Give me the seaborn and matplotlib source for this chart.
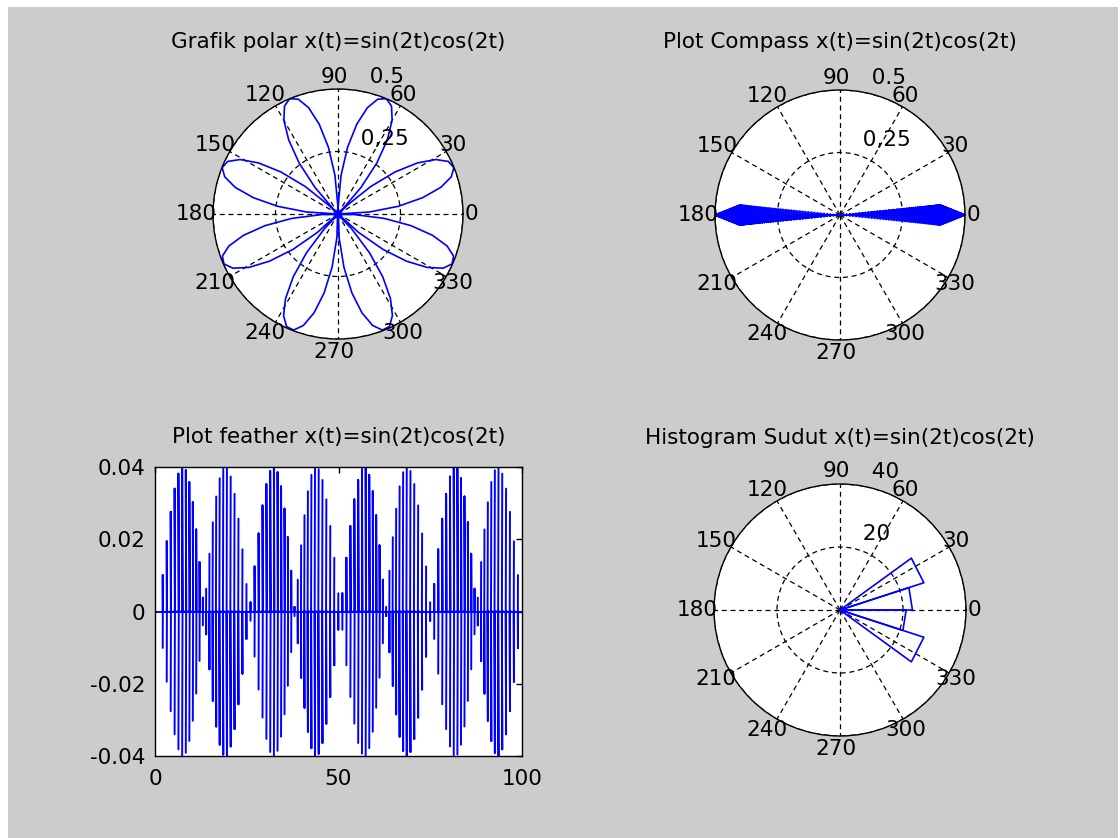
import numpy as np
import pandas as pd
import matplotlib
matplotlib.use("Agg")
import matplotlib.pyplot as plt
from matplotlib.patches import Rectangle
from matplotlib.transforms import offset_copy
import seaborn as sns

# ---------------- data ----------------
titles = ["Grafik polar x(t)=sin(2t)cos(2t)",
          "Plot Compass x(t)=sin(2t)cos(2t)",
          "Plot feather x(t)=sin(2t)cos(2t)",
          "Histogram Sudut x(t)=sin(2t)cos(2t)"]

# sample angle t (0 .. 2*pi, 100 samples) and the signal x(t)
t = np.linspace(0, 2 * np.pi, 100)
x_values = [0.0, 0.126, 0.243, 0.345, 0.425, 0.477, 0.499, 0.489, 0.448, 0.378,
            0.284, 0.171, 0.048, -0.079, -0.2, -0.309, -0.398, -0.461, -0.495, -0.497,
            -0.467, -0.407, -0.321, -0.215, -0.095, 0.032, 0.156, 0.27, 0.367, 0.441,
            0.486, 0.5, 0.482, 0.433, 0.356, 0.257, 0.141, 0.016, -0.11, -0.229,
            -0.333, -0.416, -0.473, -0.498, -0.492, -0.455, -0.388, -0.296, -0.186, -0.063,
            0.063, 0.186, 0.296, 0.388, 0.455, 0.492, 0.498, 0.473, 0.416, 0.333,
            0.229, 0.11, -0.016, -0.141, -0.257, -0.356, -0.433, -0.482, -0.5, -0.486,
            -0.441, -0.367, -0.27, -0.156, -0.032, 0.095, 0.215, 0.321, 0.407, 0.467,
            0.497, 0.495, 0.461, 0.398, 0.309, 0.2, 0.079, -0.048, -0.171, -0.284,
            -0.378, -0.448, -0.489, -0.499, -0.477, -0.425, -0.345, -0.243, -0.126, 0.0]

# angle histogram: counts in 20 bins of 18 degrees each
rose_counts = [23, 28, 0, 0, 0, 0, 0, 0, 0, 0, 0, 0, 0, 0, 0, 0, 0, 0, 28, 21]

theta_ticks = [0, 30, 60, 90, 120, 150, 180, 210, 240, 270, 300, 330]
theta_labels = ['0', '30', '60', '90', '120', '150', '180', '210', '240', '270', '300', '330']
rho_labels_small = ['0,25', '0.5']
rho_labels_rose = ['20', '40']
feather_yticks = [-0.04, -0.02, 0, 0.02, 0.04]
feather_ylabels = ['-0.04', '-0.02', '0', '0.02', '0.04']
feather_xticks = [0, 50, 100]
feather_xlabels = ['0', '50', '100']

# ---------------- style ----------------
W, H = 1120, 838
sns.set_theme(style="white")
plt.rcParams['font.family'] = ['DejaVu Sans']
FS = 15.5
BLUE = '#0000ff'

x = np.array(x_values)

fig = plt.figure(figsize=(W / 100, H / 100), dpi=100, facecolor='white')
fig.patches.append(Rectangle((8 / W, 0), (W - 10) / W, (H - 7) / H, transform=fig.transFigure,
                             facecolor='#cccccc', edgecolor='none', zorder=-10))


def px_axes(left, top, width, height, **kw):
    return fig.add_axes([left / W, 1 - (top + height) / H, width / W, height / H], **kw)


def matlab_polar(cx, cy, R, rmax, rlabels, title, title_y):
    ax = px_axes(cx - R, cy - R, 2 * R, 2 * R, projection='polar')
    ax.set_facecolor('white')
    ax.set_thetagrids(theta_ticks, [''] * len(theta_ticks))
    ax.set_rgrids([rmax / 2, rmax], labels=['', ''])
    ax.grid(True, color='black', linestyle=(0, (4, 3)), linewidth=0.9)
    ax.spines['polar'].set_color('black')
    ax.spines['polar'].set_linewidth(1.0)
    ax.tick_params(axis='x', pad=0, length=0, colors='black')
    # angle labels at 1.1*rmax (MATLAB style)
    tr = offset_copy(ax.transData, fig=fig, x=-4, y=0, units='dots')
    for a, lab in zip(theta_ticks, theta_labels):
        ax.text(np.deg2rad(a), 1.1 * rmax, lab, transform=tr, ha='center', va='center',
                fontsize=FS, color='black', clip_on=False)
    for rv, lab in zip([rmax / 2, rmax], rlabels):
        ax.text(np.deg2rad(82), rv + rmax / 2 / 20, '  ' + lab, ha='left', va='bottom',
                fontsize=FS, color='black')
    ax.set_title(title, y=1 + (cy - R - title_y) / (2 * R), va='center', pad=0,
                 fontsize=FS, color='black')
    return ax


def arrows(vals, offset):
    # MATLAB compass/feather arrow shape
    hx = [0, 1, 0.8, 1, 0.8]
    hy = [0, 0, 0.08, 0, -0.08]
    rows = []
    for i, u in enumerate(vals):
        for a, b in zip(hx, hy):
            rows.append(dict(unit=i, x=a * u + (i + 1 if offset else 0), y=b * u))
    return pd.DataFrame(rows)


# 1) polar rose
ax1 = matlab_polar(338, 214, 125, 0.5, rho_labels_small, titles[0], 42)
theta = np.where(x < 0, t + np.pi, t)
sns.lineplot(x=theta, y=np.abs(x), sort=False, estimator=None, color=BLUE, lw=1.2, ax=ax1)
ax1.set_ylim(0, 0.5)
ax1.set_xlabel(''); ax1.set_ylabel('')

# 2) compass
ax2 = matlab_polar(840, 215, 125, 0.5, rho_labels_small, titles[1], 42)
dfc = arrows(x, False)
dfc['th'] = np.arctan2(dfc['y'], dfc['x'])
dfc['r'] = np.hypot(dfc['x'], dfc['y'])
sns.lineplot(data=dfc, x='th', y='r', units='unit', sort=False, estimator=None,
             color=BLUE, lw=1.2, ax=ax2)
ax2.set_ylim(0, 0.5)
ax2.set_xlabel(''); ax2.set_ylabel('')

# 3) feather
ax3 = px_axes(155, 467, 367, 289)
ax3.set_facecolor('white')
dff = arrows(x, True)
sns.lineplot(data=dff, x='x', y='y', units='unit', sort=False, estimator=None,
             color=BLUE, lw=1.4, ax=ax3)
ax3.axhline(0, color=BLUE, lw=1.4)
ax3.set_xlim(0, 100)
ax3.set_ylim(-0.04, 0.04)
ax3.set_xticks(feather_xticks, feather_xlabels)
ax3.set_yticks(feather_yticks, feather_ylabels)
ax3.tick_params(direction='in', length=4, width=1, top=True, right=True, labelsize=FS,
                colors='black')
ax3.tick_params(axis='y', pad=7)
ax3.tick_params(axis='x', pad=9)
for s in ax3.spines.values():
    s.set_color('black'); s.set_linewidth(1.0)
ax3.set_xlabel(''); ax3.set_ylabel('')
ax3.set_title(titles[2], y=1 + 30 / 289, va='center', pad=0, fontsize=FS, color='black')

# 4) angle histogram (rose)
ax4 = matlab_polar(840, 610, 126, 40, rho_labels_rose, titles[3], 438)
edges = np.deg2rad(np.arange(0, 361, 18))
rows = []
for i, c in enumerate(rose_counts):
    for th, r in [(0, 0), (edges[i], c), (edges[i + 1], c), (0, 0)]:
        rows.append(dict(unit=i, th=th, r=r))
dfr = pd.DataFrame(rows)
sns.lineplot(data=dfr, x='th', y='r', units='unit', sort=False, estimator=None,
             color=BLUE, lw=1.2, ax=ax4)
ax4.set_ylim(0, 40)
ax4.set_xlabel(''); ax4.set_ylabel('')

fig.savefig('out.png', dpi=100, facecolor=fig.get_facecolor())
